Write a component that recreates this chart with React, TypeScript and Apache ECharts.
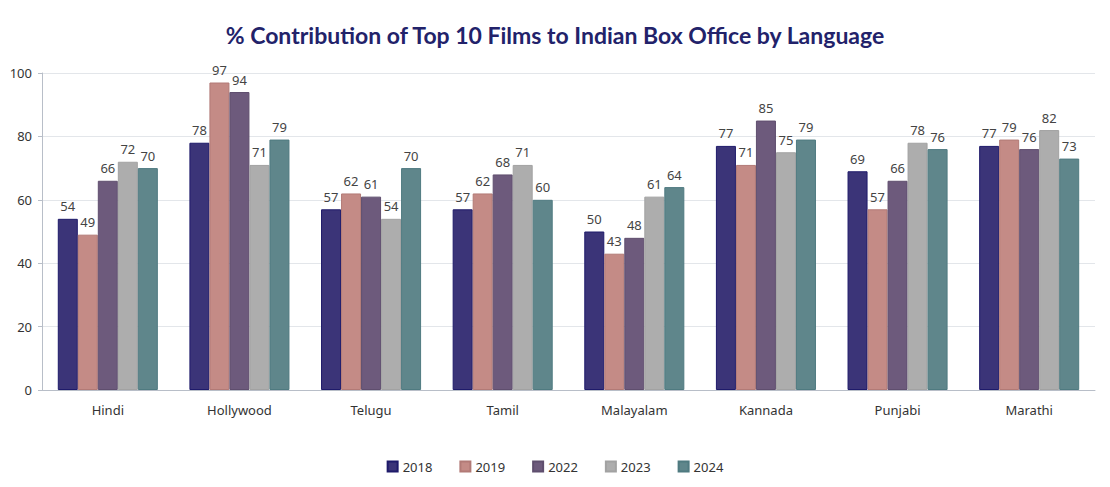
import React, { useEffect, useRef } from "react";
import * as echarts from "echarts";

const categories = ["Hindi", "Hollywood", "Telugu", "Tamil", "Malayalam", "Kannada", "Punjabi", "Marathi"];
const years = ["2018", "2019", "2022", "2023", "2024"];
const v2018 = [54, 78, 57, 57, 50, 77, 69, 77];
const v2019 = [49, 97, 62, 62, 43, 71, 57, 79];
const v2022 = [66, 94, 61, 68, 48, 85, 66, 76];
const v2023 = [72, 71, 54, 71, 61, 75, 78, 82];
const v2024 = [70, 79, 70, 60, 64, 79, 76, 73];
const seriesValues = [v2018, v2019, v2022, v2023, v2024];
const colors = ["#3b3478", "#c48b86", "#6d5a7c", "#adadad", "#5f868b"];
const borders = ["#1e1a6a", "#b27a76", "#5f4e6e", "#a2a2a2", "#4f7a80"];

export default function App() {
  const ref = useRef<HTMLDivElement>(null);
  useEffect(() => {
    const chart = echarts.init(ref.current!, null, { renderer: "svg" });
    chart.setOption({
      animation: false,
      title: {
        text: "% Contribution of Top 10 Films to Indian Box Office by Language",
        left: "center",
        top: 18,
        textStyle: { fontFamily: "Lato", fontWeight: "bold", fontSize: 23, color: "#22226a" },
      },
      legend: {
        data: years,
        top: 455,
        left: "center",
        itemWidth: 10,
        itemHeight: 10,
        itemGap: 27,
        icon: "rect",
        textStyle: { fontFamily: "Noto Sans", fontSize: 13, color: "#333" },
      },
      grid: { left: 42, right: 15, top: 73, bottom: 97, containLabel: false },
      xAxis: {
        type: "category",
        data: categories,
        axisTick: { show: false },
        axisLine: { lineStyle: { color: "#b8bec8" } },
        axisLabel: { fontFamily: "Noto Sans", fontSize: 13, color: "#333", margin: 13 },
      },
      yAxis: {
        type: "value",
        min: 0,
        max: 100,
        interval: 20,
        axisLine: { show: true, lineStyle: { color: "#b8bec8" } },
        axisTick: { show: true, length: 4, lineStyle: { color: "#b8bec8" } },
        splitLine: { lineStyle: { color: "#e3e6ea" } },
        axisLabel: { fontFamily: "Noto Sans", fontSize: 13, color: "#333", margin: 10 },
      },
      series: years.map((y, i) => ({
        name: y,
        type: "bar",
        data: seriesValues[i],
        barGap: "0%",
        barCategoryGap: "24%",
        itemStyle: { color: colors[i], borderColor: borders[i], borderWidth: 1 },
        label: {
          show: true,
          position: "top",
          distance: 6,
          fontFamily: "Noto Sans",
          fontSize: 13,
          color: "#444",
        },
      })),
    });
    return () => chart.dispose();
  }, []);
  return (
    <div
      ref={ref}
      style={{ position: "absolute", left: 0, top: 0, width: 1110, height: 487, background: "#fff" }}
    />
  );
}
